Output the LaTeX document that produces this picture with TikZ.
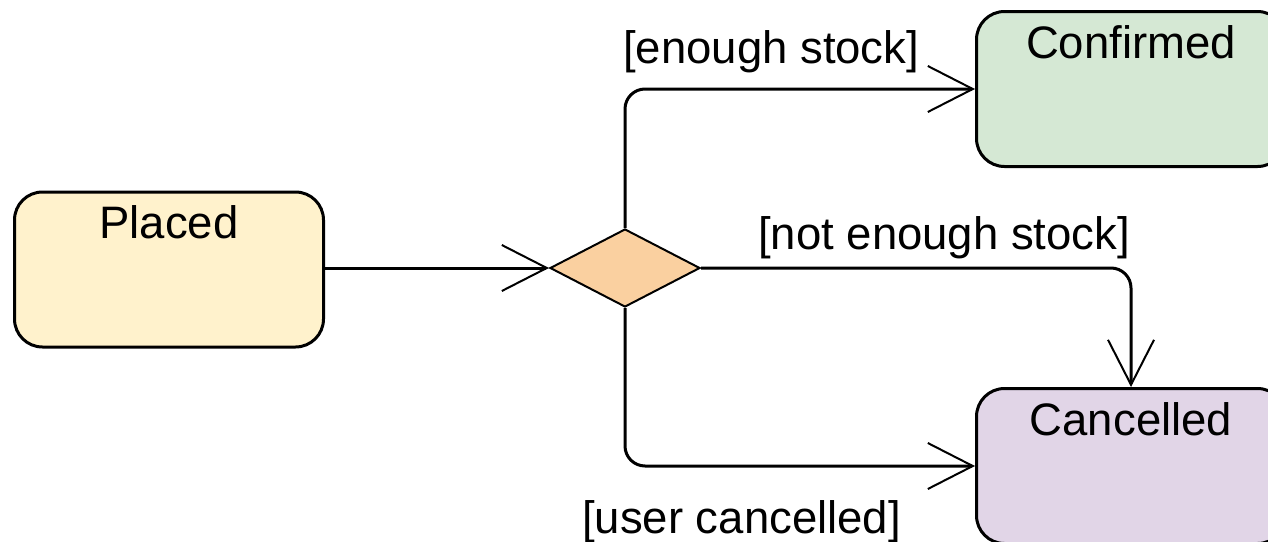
\documentclass[tikz,border=0pt]{standalone}
\usepackage{fontspec}
\setmainfont{Liberation Sans}
\usetikzlibrary{arrows.meta,shapes.geometric}
\definecolor{placedfill}{HTML}{FFF2CC}
\definecolor{confirmedfill}{HTML}{D5E8D4}
\definecolor{cancelledfill}{HTML}{E1D5E7}
\definecolor{choicefill}{HTML}{FAD0A0}
\begin{document}
\begin{tikzpicture}[x=1pt,y=-1pt,
  state/.style={draw, line width=3pt, rounded corners=28pt,
    minimum width=309pt, minimum height=155pt, inner sep=0pt, anchor=north west},
  statename/.style={anchor=base, inner sep=0pt, font=\fontsize{45.5}{54}\selectfont},
  choice/.style={diamond, draw, line width=2pt, fill=choicefill,
    minimum width=150pt, minimum height=78pt, inner sep=0pt},
  flow/.style={line width=3pt, rounded corners=20pt,
    -{Straight Barb[length=45pt,width=46pt,line width=2pt]}},
  guard/.style={anchor=base west, inner sep=0pt, font=\fontsize{45.5}{54}\selectfont}
]
\clip (0,0) rectangle (1268,541);

% states
\node[state, fill=placedfill] (placed) at (13,190.5) {};
\node[state, fill=confirmedfill] (confirmed) at (975,10) {};
\node[state, fill=cancelledfill] (cancelled) at (975,387) {};
\node[statename] (placedname) at ([yshift=-48pt]placed.north) {Placed};
\node[statename] (confirmedname) at ([yshift=-48pt]confirmed.north) {Confirmed};
\node[statename] (cancelledname) at ([yshift=-48pt]cancelled.north) {Cancelled};

% decision
\node[choice] (stock) at (625,268) {};

% transitions
\draw[flow] (placed.east |- stock.west) -- (stock.west);
\draw[flow] (stock.north) |- (confirmed.west);
\draw[flow] (stock.east) -| (cancelled.north);
\draw[flow] (stock.south) |- (cancelled.west);

% guards
\node[guard] (g1) at (623,63) {[enough stock]};
\node[guard] (g2) at (758,249) {[not enough stock]};
\node[guard] (g3) at (582,533) {[user cancelled]};
\end{tikzpicture}
\end{document}
